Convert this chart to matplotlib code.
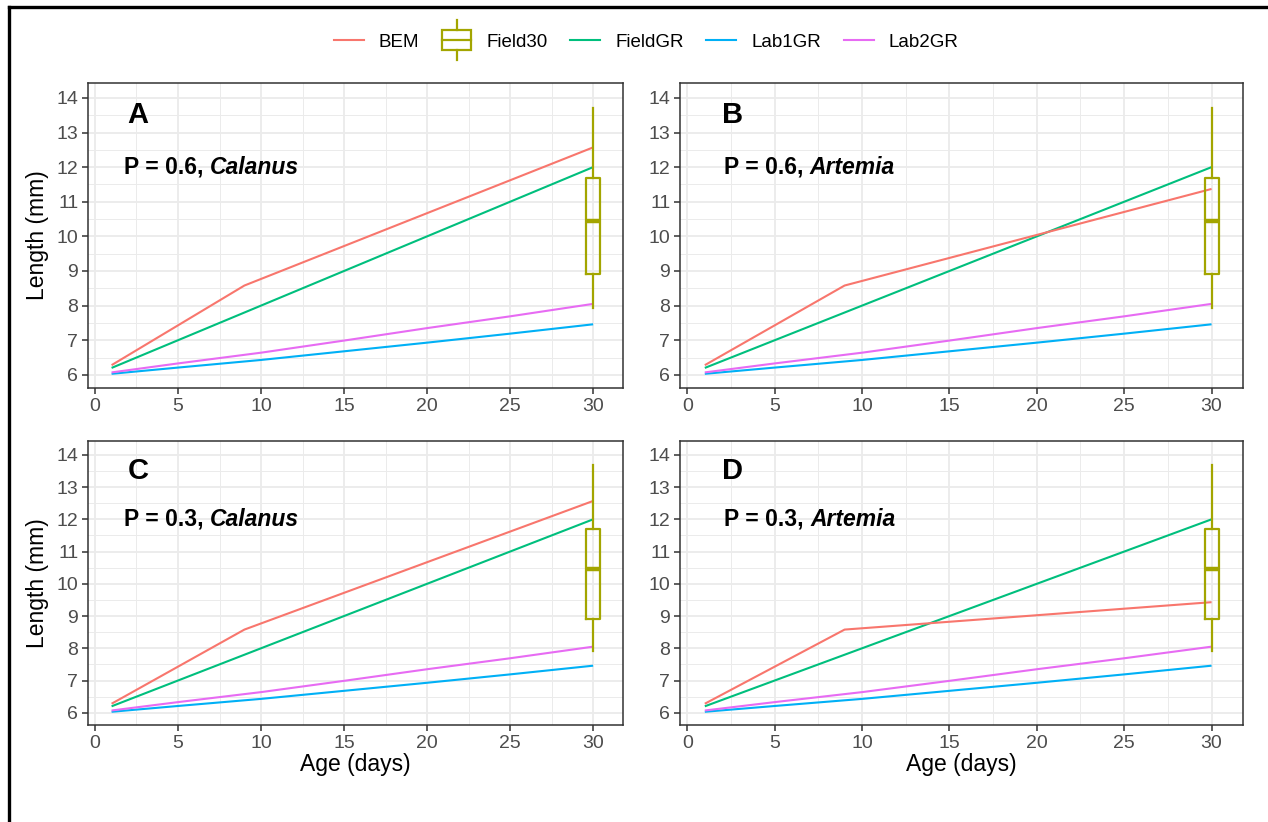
import matplotlib
matplotlib.use("Agg")
import matplotlib.pyplot as plt
from matplotlib.lines import Line2D
from matplotlib.patches import Rectangle
from matplotlib.legend_handler import HandlerBase

plt.rcParams['font.family'] = ['Liberation Sans', 'DejaVu Sans']

# ---- data ----
panels = ["A", "B", "C", "D"]
p_values = ["0.6", "0.6", "0.3", "0.3"]
prey = ["Calanus", "Artemia", "Calanus", "Artemia"]

bem_days = [1, 9, 30]
bem_length = {
    "A": [6.28, 8.58, 12.57],
    "B": [6.28, 8.58, 11.37],
    "C": [6.28, 8.58, 12.57],
    "D": [6.28, 8.58, 9.43],
}

gr_days = [1, 5, 10, 15, 20, 25, 30]
field_gr = [6.2, 7.0, 8.0, 9.0, 10.0, 11.0, 12.0]
lab1_gr = [6.03, 6.21, 6.43, 6.68, 6.93, 7.19, 7.46]
lab2_gr = [6.07, 6.33, 6.64, 6.99, 7.35, 7.69, 8.05]

# Field length at day 30 (box summary)
field30_day = 30
field30_stats = dict(whislo=7.93, q1=8.92, med=10.45, q3=11.70, whishi=13.70)

x_ticks = [0, 5, 10, 15, 20, 25, 30]
y_ticks = [6, 7, 8, 9, 10, 11, 12, 13, 14]

# ---- style ----
C_BEM = "#F8766D"
C_F30 = "#A3A500"
C_FGR = "#00BF7D"
C_L1 = "#00B0F6"
C_L2 = "#E76BF3"
GRID = "#EBEBEB"
BORDER = "#333333"
TICKTXT = "#4D4D4D"

W, H = 1268, 822
fig = plt.figure(figsize=(W / 100, H / 100), dpi=100)


def frac_box(left, right, top, bottom):
    return [left / W, 1 - bottom / H, (right - left) / W, (bottom - top) / H]


boxes = {
    "A": frac_box(88, 623, 83, 388),
    "B": frac_box(680, 1243, 83, 388),
    "C": frac_box(88, 623, 441, 725),
    "D": frac_box(680, 1243, 441, 725),
}

LW = 1.5

for i, key in enumerate(panels):
    ax = fig.add_axes(boxes[key])
    ax.set_xlim(-0.42, 31.8)
    ax.set_ylim(5.62, 14.43)
    ax.set_xticks(x_ticks)
    ax.set_yticks(y_ticks)
    ax.set_xticks([2.5, 7.5, 12.5, 17.5, 22.5, 27.5], minor=True)
    ax.set_yticks([6.5, 7.5, 8.5, 9.5, 10.5, 11.5, 12.5, 13.5], minor=True)
    ax.grid(which="major", color=GRID, lw=1.3)
    ax.grid(which="minor", color=GRID, lw=0.7)
    ax.set_axisbelow(True)
    for s in ax.spines.values():
        s.set_color(BORDER)
        s.set_linewidth(1.1)
    ax.tick_params(which="major", direction="out", length=4, width=1.1,
                   color=BORDER, labelcolor=TICKTXT, labelsize=14, pad=3)
    ax.tick_params(which="minor", length=0)

    ax.plot(gr_days, lab1_gr, color=C_L1, lw=LW, solid_capstyle="butt")
    ax.plot(gr_days, lab2_gr, color=C_L2, lw=LW, solid_capstyle="butt")
    ax.plot(gr_days, field_gr, color=C_FGR, lw=LW, solid_capstyle="butt")
    ax.plot(bem_days, bem_length[key], color=C_BEM, lw=LW, solid_capstyle="butt")

    ax.bxp([dict(field30_stats, fliers=[])], positions=[field30_day], widths=0.8,
           showfliers=False, showcaps=False,
           boxprops=dict(color=C_F30, lw=1.6),
           whiskerprops=dict(color=C_F30, lw=1.6),
           medianprops=dict(color=C_F30, lw=3.2, solid_capstyle="butt"),
           manage_ticks=False)

    ax.text(2.6, 13.5, key, ha="center", va="center", fontsize=21,
            fontweight="bold", color="black")
    t1 = ax.text(7.0, 12.0, f"P = {p_values[i]}, ", ha="left", va="center",
                 fontsize=16.5, fontweight="bold", color="black")
    t2 = ax.annotate(prey[i], xy=(1, 0.5), xycoords=t1, ha="left", va="center",
                     fontsize=16.5, fontweight="bold", style="italic", color="black")
    ax._pair = (t1, t2)

    if key in ("A", "C"):
        ax.set_ylabel("Length (mm)", fontsize=16.5, labelpad=5)
    if key in ("C", "D"):
        ax.set_xlabel("Age (days)", fontsize=16.5, labelpad=1)

# center the two-part annotation around x = 7
fig.canvas.draw()
renderer = fig.canvas.get_renderer()
for ax in fig.axes:
    t1, t2 = ax._pair
    w = t1.get_window_extent(renderer).width + t2.get_window_extent(renderer).width
    cx, cy = ax.transData.transform((7.0, 12.0))
    left = ax.transData.inverted().transform((cx - w / 2, cy))[0]
    t1.set_position((left, 12.0))


class BoxHandler(HandlerBase):
    def create_artists(self, legend, orig_handle, xdescent, ydescent,
                       width, height, fontsize, trans):
        x0, y0 = -xdescent, -ydescent
        cx = x0 + width / 2
        bw = width * 0.95
        bh = height * 1.5
        by = y0 + height / 2 - bh / 2
        rect = Rectangle((cx - bw / 2, by), bw, bh, fill=False,
                         edgecolor=C_F30, lw=1.6, transform=trans)
        med = Line2D([cx - bw / 2, cx + bw / 2], [by + bh / 2] * 2,
                     color=C_F30, lw=1.6, transform=trans)
        w1 = Line2D([cx, cx], [by + bh, by + bh + height * 0.8],
                    color=C_F30, lw=1.6, transform=trans)
        w2 = Line2D([cx, cx], [by, by - height * 0.8],
                    color=C_F30, lw=1.6, transform=trans)
        return [rect, med, w1, w2]


box_handle = Rectangle((0, 0), 1, 1)
handles = [
    Line2D([], [], color=C_BEM, lw=LW),
    box_handle,
    Line2D([], [], color=C_FGR, lw=LW),
    Line2D([], [], color=C_L1, lw=LW),
    Line2D([], [], color=C_L2, lw=LW),
]
labels = ["BEM", "Field30", "FieldGR", "Lab1GR", "Lab2GR"]
fig.legend(handles, labels, loc="center", bbox_to_anchor=(646 / W, 1 - 42 / H),
           ncol=5, frameon=False, fontsize=13.5, handlelength=1.6,
           handletextpad=0.8, columnspacing=1.2,
           handler_map={Rectangle: BoxHandler()})

# outer frame (left and top edges)
fig.add_artist(Line2D([9 / W, 9 / W], [0, 1 - 7 / H], transform=fig.transFigure,
                      color="black", lw=2.4, solid_capstyle="projecting"))
fig.add_artist(Line2D([9 / W, 1], [1 - 7 / H, 1 - 7 / H], transform=fig.transFigure,
                      color="black", lw=2.4, solid_capstyle="projecting"))

fig.savefig("out.png", dpi=100, facecolor="white")
